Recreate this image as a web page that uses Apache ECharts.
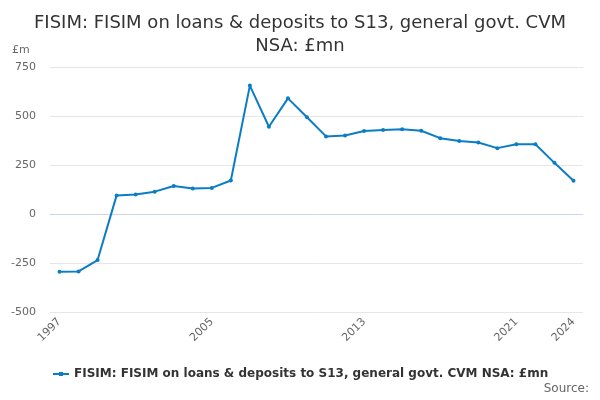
<!DOCTYPE html>
<html><head><meta charset="utf-8">
<script src="https://cdn.jsdelivr.net/npm/echarts@6/dist/echarts.min.js"></script>
<style>html,body{margin:0;padding:0;background:#fff}#c{width:600px;height:400px}</style>
</head><body><div id="c"></div>
<script>
const years = ['1997','1998','1999','2000','2001','2002','2003','2004','2005','2006','2007','2008','2009','2010','2011','2012','2013','2014','2015','2016','2017','2018','2019','2020','2021','2022','2023','2024'];
const values = [-295,-293,-235,95,99,114,143,130,133,171,655,445,590,494,396,401,423,428,433,425,387,372,365,336,356,356,261,170];
const seriesName = 'FISIM: FISIM on loans & deposits to S13, general govt. CVM NSA: £mn';
const titleText = 'FISIM: FISIM on loans & deposits to S13, general govt. CVM\nNSA: £mn';
const font = 'DejaVu Sans';
const chart = echarts.init(document.getElementById('c'));
const last = years.length - 1;
chart.setOption({
  animation: false,
  title: {
    text: titleText, left: 'center', top: 7,
    textStyle: {fontFamily: font, fontSize: 18, fontWeight: 'normal', color: '#333', lineHeight: 23}
  },
  graphic: [
    {type: 'text', left: 12, top: 45, style: {text: '£m', fontFamily: font, fontSize: 11, fill: '#666'}},
    {type: 'text', right: 11, top: 383, style: {text: 'Source:', fontFamily: font, fontSize: 12, fill: '#666'}}
  ],
  legend: {
    bottom: 15, left: 48, itemWidth: 16, itemHeight: 8,
    textStyle: {fontFamily: font, fontSize: 12, fontWeight: 'bold', color: '#333'},
    data: [{name: seriesName, icon: 'path://M0,3 L16,3 L16,5 L0,5 Z M6,2 L10,2 L10,6 L6,6 Z'}]
  },
  grid: {left: 50, right: 17, top: 67, bottom: 88},
  xAxis: {
    type: 'category', data: years, boundaryGap: true,
    axisLine: {lineStyle: {color: '#ccd6eb'}},
    axisTick: {alignWithLabel: true, length: 9, lineStyle: {color: '#ccd6eb'},
      interval: (i) => i % 2 === 0 || i === last},
    axisLabel: {rotate: 45, fontFamily: font, fontSize: 11, color: '#666', margin: 8,
      interval: (i) => i % 8 === 0 || i === last}
  },
  yAxis: {
    type: 'value', min: -500, max: 750, interval: 250,
    axisLine: {show: false}, axisTick: {show: false},
    splitLine: {lineStyle: {color: '#e6e6e6'}},
    axisLabel: {fontFamily: font, fontSize: 11, color: '#666', margin: 14}
  },
  series: [{
    name: seriesName, type: 'line', data: values,
    color: '#0b7dc4',
    lineStyle: {width: 2}, symbol: 'circle', symbolSize: 4,
    itemStyle: {color: '#0b7dc4'}
  }]
});
</script></body></html>
